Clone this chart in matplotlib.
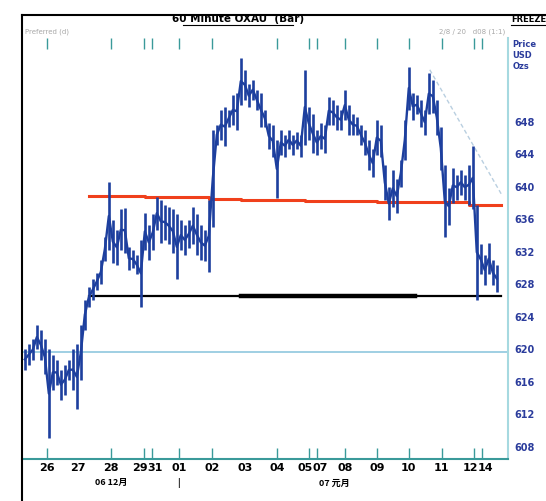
import numpy as np
import matplotlib
matplotlib.use("Agg")
from matplotlib import pyplot as plt
from matplotlib.lines import Line2D

# 60-minute bars, high / low (USD per oz), one entry per bar
high = [620.0, 620.6, 621.2, 623.0, 622.4, 621.2, 620.0, 619.3, 618.7, 617.5,
        618.1, 618.7, 620.0, 620.6, 623.0, 626.1, 627.6, 628.6, 629.4, 631.0,
        633.8, 640.6, 635.9, 634.7, 637.2, 637.4, 632.6, 632.2, 631.6, 633.5,
        636.8, 635.3, 636.6, 638.8, 638.4, 637.8, 637.5, 637.2, 636.6, 635.9,
        635.3, 635.9, 637.5, 636.6, 635.3, 634.7, 638.4, 647.0, 647.6, 649.5,
        649.8, 649.5, 651.3, 651.6, 655.9, 654.4, 652.6, 653.2, 651.9, 651.6,
        649.5, 647.9, 647.6, 645.8, 647.0, 646.4, 647.0, 646.4, 646.8, 646.4,
        654.4, 649.8, 648.9, 647.0, 647.9, 647.6, 651.1, 650.7, 650.1, 649.5,
        651.9, 650.1, 648.9, 648.6, 647.6, 647.0, 645.8, 644.6, 648.2, 647.6,
        642.7, 640.0, 642.1, 640.9, 643.3, 648.2, 654.8, 651.6, 651.3, 650.7,
        649.5, 654.0, 653.2, 650.7, 647.4, 642.7, 639.9, 642.3, 641.5, 642.1,
        641.5, 642.7, 645.0, 637.8, 632.9, 631.6, 633.1, 631.0, 630.4]
low = [617.5, 618.1, 618.7, 620.0, 618.7, 616.9, 609.1, 615.0, 615.6, 613.8,
       614.4, 616.2, 615.0, 612.6, 616.2, 622.4, 625.2, 626.1, 627.3, 628.0,
       630.8, 632.2, 630.6, 630.4, 632.2, 631.9, 629.8, 630.0, 629.2, 625.2,
       632.2, 631.0, 632.2, 634.7, 633.1, 633.5, 632.9, 631.9, 628.6, 632.2,
       631.6, 632.5, 632.9, 631.6, 631.0, 630.8, 629.5, 635.1, 645.2, 645.8,
       645.0, 647.4, 647.6, 647.0, 650.1, 650.7, 649.8, 650.7, 649.5, 647.4,
       647.4, 644.6, 643.7, 638.6, 643.9, 643.7, 644.6, 643.9, 644.6, 643.7,
       645.2, 645.8, 644.2, 643.9, 644.6, 644.2, 647.6, 647.6, 647.0, 647.0,
       648.2, 646.4, 646.4, 646.4, 645.2, 643.9, 642.1, 641.2, 643.9, 643.7,
       638.4, 635.9, 637.5, 636.8, 640.0, 643.3, 649.5, 648.2, 648.9, 647.4,
       646.4, 648.9, 649.1, 646.4, 642.1, 633.8, 635.3, 638.0, 638.4, 639.0,
       638.4, 637.8, 637.2, 626.1, 629.2, 627.9, 629.2, 627.9, 627.0]

# date axis (bar index)
tick_pos = [5.5, 21.5, 29.75, 31.75, 38.5, 46.75, 63, 71, 73, 80, 88, 96,
            104.25, 112.25, 114.25]
label_pos = [5.5, 13.25, 21.5, 28.9, 32.6, 38.5, 46.75, 55, 63, 70.2, 73.8,
             80, 88, 96, 104.25, 111.4, 115.1]
date_labels = ['26', '27', '28', '29', '31', '01', '02', '03', '04', '05', '07',
               '08', '09', '10', '11', '12', '14']
month_pos = [21.5, 38.5, 77.5]
month_labels = ['06 12月', '|', '07 元月']

price_ticks = [648, 644, 640, 636, 632, 628, 624, 620, 616, 612, 608]

# support / resistance lines
red_idx = [16, 30, 46, 54, 70, 88, 111, 119]
red_vals = [638.9, 638.7, 638.5, 638.4, 638.3, 638.1, 637.8, 637.8]
black_idx = [16, 119]
black_bold_idx = [54, 97.5]
black_val = 626.6
blue_level = 619.6
trend_idx = [101.25, 119.25]
trend_vals = [654.4, 639.0]

BLUE = '#1d3f9e'
TEXT_BLUE = '#2b3c9c'
TEAL = '#3a9a9a'

fig = plt.figure(figsize=(5.46, 5.01), dpi=100)
ax = fig.add_axes([0.040, 0.084, 0.890, 0.840])

x = np.arange(len(high))
hi = np.array(high)
lo = np.array(low)

ax.axhline(blue_level, color='#8fc7de', lw=1.2, zorder=1)
ax.plot(trend_idx, trend_vals, color='#b9cfe0', lw=1.0, ls=(0, (3, 2)), zorder=1)

ax.step(red_idx, red_vals, where='post', color='#f0401c', lw=2.2, zorder=2)
ax.plot(black_idx, [black_val] * 2, color='black', lw=1.6, zorder=2)
ax.plot(black_bold_idx, [black_val] * 2, color='black', lw=3.2, zorder=2)

ax.vlines(x, lo, hi, color=BLUE, lw=1.9, zorder=3)
ax.plot(x, (hi + lo) / 2, color=BLUE, lw=1.7, zorder=3)

ax.set_xlim(-0.75, 120.75)
ax.set_ylim(606.5, 658.3)

for s in ['left', 'top']:
    ax.spines[s].set_visible(False)
ax.spines['right'].set_color('#a6d9e0')
ax.spines['right'].set_linewidth(1.5)
ax.spines['bottom'].set_color(TEAL)
ax.spines['bottom'].set_linewidth(1.5)

ax.yaxis.tick_right()
ax.set_yticks(price_ticks)
ax.set_yticklabels([str(p) for p in price_ticks], color=TEXT_BLUE,
                   fontsize=7, fontweight='bold')
ax.tick_params(axis='y', length=0, pad=5)

# tick marks at day starts, top and bottom
ax.set_xticks(tick_pos)
ax.set_xticklabels([])
ax.tick_params(axis='x', direction='in', length=8, width=1, color=TEAL,
               top=True, bottom=True)

xt = ax.get_xaxis_transform()
for p, lab in zip(label_pos, date_labels):
    ax.text(p, -0.022, lab, transform=xt, ha='center', va='center',
            fontsize=8, fontweight='bold')

for p, lab in zip(month_pos, month_labels):
    ax.text(p, -0.057, lab, transform=xt, ha='center', va='center',
            fontsize=6.5, fontweight='bold',
            family=['Noto Sans CJK SC', 'DejaVu Sans'])

# header texts
fig.text(0.436, 0.962, '60 Minute OXAU  (Bar)', ha='center', va='center',
         fontsize=7.5, fontweight='bold')
fig.add_artist(Line2D([0.335, 0.537], [0.950, 0.950], color='black', lw=0.8))
fig.text(0.936, 0.962, 'FREEZE', ha='left', va='center', fontsize=6,
         fontweight='bold')
fig.add_artist(Line2D([0.936, 1.0], [0.950, 0.950], color='black', lw=0.8))
fig.text(0.045, 0.936, 'Preferred (d)', ha='left', va='center', fontsize=5,
         color='#a8a8a8')
fig.text(0.925, 0.936, '2/8 / 20   d08 (1:1)', ha='right', va='center',
         fontsize=5, color='#a8a8a8')
fig.text(0.938, 0.890, 'Price\nUSD\nOzs', ha='left', va='center', fontsize=6,
         color=TEXT_BLUE, fontweight='bold', linespacing=1.3)

# page border
fig.add_artist(Line2D([0.040, 0.040], [0.0, 0.970], color='black', lw=1.5))
fig.add_artist(Line2D([0.040, 1.0], [0.970, 0.970], color='black', lw=1.5))

fig.savefig('out.png', dpi=100, facecolor='white')
